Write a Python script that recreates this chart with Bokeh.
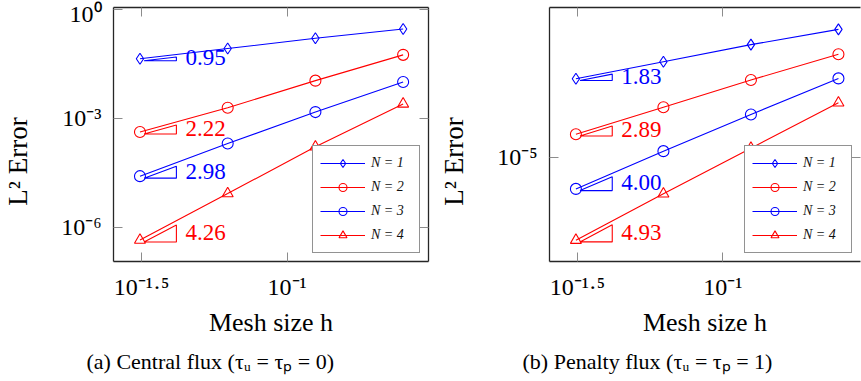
import math
from bokeh.plotting import figure
from bokeh.models import (LogAxis, FixedTicker, Legend, LegendItem, Range1d,
                          CustomJSTickFormatter, Title)
from bokeh.layouts import row
from bokeh.embed import file_html
from bokeh.resources import INLINE
from bokeh.core.properties import value

# ---------------- data ----------------
h = [1/32, 1/16, 1/8, 1/4]
series_labels = ["N = 1", "N = 2", "N = 3", "N = 4"]
series_colors = ["#0000ff", "#ff0000", "#0000ff", "#ff0000"]
series_markers = ["diamond", "circle", "circle", "triangle"]

# (a) central flux
central_N1 = [4.385e-2, 8.395e-2, 1.614e-1, 2.897e-1]
central_N2 = [4.246e-4, 1.972e-3, 1.099e-2, 5.636e-2]
central_N3 = [2.570e-5, 2.046e-4, 1.496e-3, 1.012e-2]
central_N4 = [4.467e-7, 8.511e-6, 1.660e-4, 2.512e-3]
central_rates = ["0.95", "2.22", "2.98", "4.26"]

# (b) penalty flux
penalty_N1 = [3.350e-3, 1.167e-2, 4.150e-2, 1.282e-1]
penalty_N2 = [5.521e-5, 4.083e-4, 3.048e-3, 2.051e-2]
penalty_N3 = [9.772e-7, 1.589e-5, 2.393e-4, 3.428e-3]
penalty_N4 = [2.208e-8, 6.776e-7, 1.977e-5, 5.649e-4]
penalty_rates = ["1.83", "2.89", "4.00", "4.93"]

x_ticks = [10 ** -1.5, 10 ** -1]
x_tick_labels = ["10⁻¹·⁵", "10⁻¹"]
central_y_ticks = [1.0, 1e-3, 1e-6]
central_y_tick_labels = ["10⁰", "10⁻³", "10⁻⁶"]
penalty_y_ticks = [1e-5]
penalty_y_tick_labels = ["10⁻⁵"]

y_title = "L² Error"
x_title = "Mesh size h"
captions = ["(a) Central flux (τᵤ = τₚ = 0)", "(b) Penalty flux (τᵤ = τₚ = 1)"]

# ---------------- styling ----------------
SERIF = "Liberation Serif"
FRAME = "#262626"
TICK = "#8c8c8c"
XLO, XHI = -1.596, -0.515
PAD = "\u00a0" * 8   # nudges the rotated axis title down to the frame's middle


def style_axis(ax, ticks):
    ax.ticker = FixedTicker(ticks=ticks)
    ax.major_tick_in = 9
    ax.major_tick_out = 0
    ax.major_tick_line_color = TICK
    ax.major_tick_line_width = 1
    ax.minor_tick_line_color = None
    ax.axis_line_color = FRAME
    ax.axis_line_width = 1.3


def hide_labels(ax):
    ax.formatter = CustomJSTickFormatter(code="return '';")
    ax.major_label_text_font_size = "1px"
    ax.major_label_standoff = 0


def make_panel(width, border_left, border_right, y_lo, y_hi, x_hi, series, rates,
               y_ticks, y_tick_labels, caption, hide_right_line):
    p = figure(width=width, height=381, x_axis_type="log", y_axis_type="log",
               x_range=Range1d(10 ** XLO, 10 ** x_hi), y_range=Range1d(10 ** y_lo, 10 ** y_hi),
               output_backend="svg", toolbar_location=None,
               min_border_left=border_left, min_border_right=border_right,
               min_border_top=7, min_border_bottom=118)
    p.outline_line_color = None
    p.xgrid.visible = False
    p.ygrid.visible = False
    p.background_fill_color = "white"
    p.border_fill_color = "white"

    xa = p.below[0]
    ya = p.left[0]
    top_ax = LogAxis()
    right_ax = LogAxis()
    p.add_layout(top_ax, "above")
    p.add_layout(right_ax, "right")
    style_axis(xa, x_ticks)
    style_axis(top_ax, x_ticks)
    style_axis(ya, y_ticks)
    style_axis(right_ax, y_ticks)
    hide_labels(top_ax)
    hide_labels(right_ax)
    if hide_right_line:
        right_ax.axis_line_color = None

    xa.formatter = CustomJSTickFormatter(args=dict(labels=x_tick_labels),
                                         code="return labels[index];")
    xa.major_label_text_font = SERIF
    xa.major_label_text_font_size = "24px"
    xa.major_label_text_color = "black"
    xa.major_label_standoff = 12
    xa.axis_label = x_title
    xa.axis_label_text_font = SERIF
    xa.axis_label_text_font_size = "26px"
    xa.axis_label_text_font_style = "normal"
    xa.axis_label_text_color = "black"
    xa.axis_label_standoff = 5

    ya.formatter = CustomJSTickFormatter(args=dict(labels=y_tick_labels),
                                         code="return labels[index];")
    ya.major_label_text_font = SERIF
    ya.major_label_text_font_size = "24px"
    ya.major_label_text_color = "black"
    ya.major_label_standoff = 12
    ya.axis_label = y_title + PAD
    ya.axis_label_text_font = SERIF
    ya.axis_label_text_font_size = "27px"
    ya.axis_label_text_font_style = "normal"
    ya.axis_label_text_color = "black"
    ya.axis_label_standoff = 25

    p.add_layout(Title(text=caption, align="left", offset=-27, standoff=15,
                       text_font=SERIF, text_font_size="22px", text_font_style="normal",
                       text_color="black"), "below")

    items = []
    for ys, lab, col, mk, rate in zip(series, series_labels, series_colors, series_markers, rates):
        lr = p.line(h, ys, line_color=col, line_width=1.1)
        sr = p.scatter(h, ys, marker=mk, size=11, line_color=col, fill_color=None, line_width=1.1)
        items.append(LegendItem(label=lab, renderers=[lr, sr]))
        # slope triangle from the first point
        r = float(rate)
        x0 = h[0] * 10 ** 0.014
        x1 = h[0] * 10 ** 0.125
        y0 = ys[0] * 10 ** -0.055
        y1 = y0 * (x1 / x0) ** r
        p.line([x0, x1, x1, x0], [y0, y1, y0, y0], line_color=col, line_width=1.1)
        p.text(x=[x1], y=[math.sqrt(y0 * y1)], text=[rate], text_color=col,
               text_font=value(SERIF), text_font_size=value("23px"),
               text_align="left", text_baseline="middle", x_offset=9, y_offset=-1)

    legend = Legend(items=items, location="bottom_right", orientation="vertical",
                    glyph_width=45, glyph_height=20, label_height=20, label_width=41,
                    label_standoff=6, spacing=4, padding=7, margin=8,
                    border_line_color=FRAME, border_line_width=1.3,
                    background_fill_color="white", background_fill_alpha=1.0,
                    label_text_font=SERIF, label_text_font_size="14px",
                    label_text_font_style="italic", label_text_color="#111111")
    p.add_layout(legend)
    return p


left = make_panel(436, 113, 8, -6.94, 0.055, XHI,
                  [central_N1, central_N2, central_N3, central_N4], central_rates,
                  central_y_ticks, central_y_tick_labels, captions[0], False)
right = make_panel(425, 113, 1, -8.34, -0.19, XLO + 311 / 290.7,
                   [penalty_N1, penalty_N2, penalty_N3, penalty_N4], penalty_rates,
                   penalty_y_ticks, penalty_y_tick_labels, captions[1], True)

layout = row(left, right)
open("out.html", "w").write(file_html(layout, INLINE))
